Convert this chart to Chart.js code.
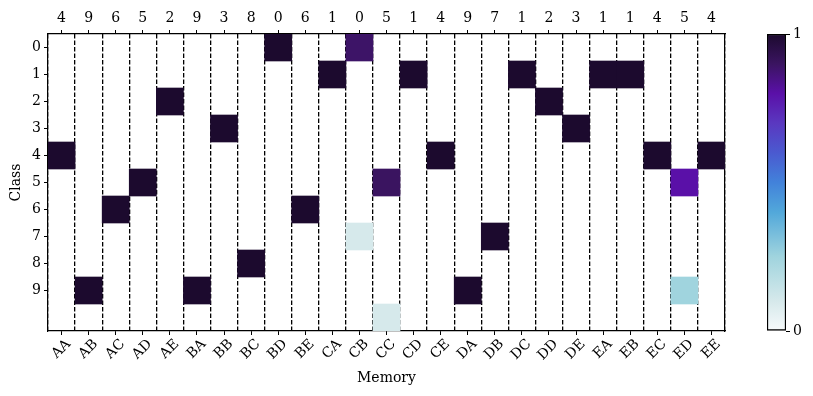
<!doctype html>
<html>

<head>
	<title>Memory vs Class</title>
	<script src="https://cdn.jsdelivr.net/npm/chart.js@4.4.1/dist/chart.umd.min.js"></script>
	<style>
		body { margin: 0; background: #fff; }
		#main-holder { position: absolute; left: 0; top: 0; width: 745px; height: 396px; }
		#bar-holder { position: absolute; left: 740px; top: 0; width: 73px; height: 396px; }
	</style>
</head>

<body>
	<div id="main-holder"><canvas id="heat"></canvas></div>
	<div id="bar-holder"><canvas id="cbar"></canvas></div>
	<script>
		var memory = ['AA', 'AB', 'AC', 'AD', 'AE', 'BA', 'BB', 'BC', 'BD', 'BE', 'CA', 'CB', 'CC',
			'CD', 'CE', 'DA', 'DB', 'DC', 'DD', 'DE', 'EA', 'EB', 'EC', 'ED', 'EE'];
		var classes = [0, 1, 2, 3, 4, 5, 6, 7, 8, 9];
		var topLabels = ['4', '9', '6', '5', '2', '9', '3', '8', '0', '6', '1', '0', '5',
			'1', '4', '9', '7', '1', '2', '3', '1', '1', '4', '5', '4'];

		// one row per class (last row has no label), one value per memory column
		var heat = [
			[0, 0, 0, 0, 0, 0, 0, 0, 1, 0, 0, 0.89, 0, 0, 0, 0, 0, 0, 0, 0, 0, 0, 0, 0, 0],
			[0, 0, 0, 0, 0, 0, 0, 0, 0, 0, 1, 0, 0, 1, 0, 0, 0, 1, 0, 0, 1, 1, 0, 0, 0],
			[0, 0, 0, 0, 1, 0, 0, 0, 0, 0, 0, 0, 0, 0, 0, 0, 0, 0, 1, 0, 0, 0, 0, 0, 0],
			[0, 0, 0, 0, 0, 0, 1, 0, 0, 0, 0, 0, 0, 0, 0, 0, 0, 0, 0, 1, 0, 0, 0, 0, 0],
			[1, 0, 0, 0, 0, 0, 0, 0, 0, 0, 0, 0, 0, 0, 1, 0, 0, 0, 0, 0, 0, 0, 1, 0, 1],
			[0, 0, 0, 1, 0, 0, 0, 0, 0, 0, 0, 0, 0.9, 0, 0, 0, 0, 0, 0, 0, 0, 0, 0, 0.8, 0],
			[0, 0, 1, 0, 0, 0, 0, 0, 0, 1, 0, 0, 0, 0, 0, 0, 0, 0, 0, 0, 0, 0, 0, 0, 0],
			[0, 0, 0, 0, 0, 0, 0, 0, 0, 0, 0, 0.1, 0, 0, 0, 0, 1, 0, 0, 0, 0, 0, 0, 0, 0],
			[0, 0, 0, 0, 0, 0, 0, 1, 0, 0, 0, 0, 0, 0, 0, 0, 0, 0, 0, 0, 0, 0, 0, 0, 0],
			[0, 1, 0, 0, 0, 1, 0, 0, 0, 0, 0, 0, 0, 0, 0, 1, 0, 0, 0, 0, 0, 0, 0, 0.25, 0],
			[0, 0, 0, 0, 0, 0, 0, 0, 0, 0, 0, 0, 0.1, 0, 0, 0, 0, 0, 0, 0, 0, 0, 0, 0, 0]
		];

		var cmapStops = [
			[0.0, [247, 250, 251]], [0.1, [214, 233, 235]], [0.25, [160, 212, 222]],
			[0.4, [82, 168, 218]], [0.5, [66, 130, 218]], [0.6, [74, 90, 208]],
			[0.7, [90, 56, 192]], [0.8, [90, 16, 168]], [0.9, [58, 20, 96]],
			[1.0, [28, 10, 46]]
		];

		function cmap(v) {
			for (var i = 1; i < cmapStops.length; i++) {
				if (v <= cmapStops[i][0]) {
					var a = cmapStops[i - 1], b = cmapStops[i];
					var t = (v - a[0]) / (b[0] - a[0]);
					var c = a[1].map(function(x, k) { return Math.round(x + (b[1][k] - x) * t); });
					return 'rgb(' + c.join(',') + ')';
				}
			}
			return 'rgb(' + cmapStops[cmapStops.length - 1][1].join(',') + ')';
		}

		var font = { family: 'DejaVu Serif', size: 14 };
		Chart.defaults.color = '#000';
		Chart.defaults.font = font;

		var datasets = heat.map(function(row, r) {
			return {
				data: row.map(function(v) { return v > 0 ? [r - 0.5, r + 0.5] : null; }),
				backgroundColor: row.map(function(v) { return cmap(v); }),
				borderWidth: 0,
				barPercentage: 1,
				categoryPercentage: 1,
				grouped: false
			};
		});

		var tickGrid = { drawOnChartArea: false, tickLength: 4, tickWidth: 1, tickColor: '#000', offset: false };
		var solidBorder = { color: '#000', width: 1.2 };

		new Chart(document.getElementById('heat'), {
			type: 'bar',
			data: { labels: memory, datasets: datasets },
			options: {
				responsive: true,
				maintainAspectRatio: false,
				animation: false,
				layout: { padding: { left: 0, right: 20, top: 0, bottom: 0 } },
				plugins: { legend: { display: false }, tooltip: { enabled: false } },
				scales: {
					x: {
						type: 'category',
						position: 'bottom',
						offset: true,
						z: 1,
						grid: tickGrid,
						border: solidBorder,
						ticks: { maxRotation: 45, minRotation: 45, labelOffset: 7, padding: 1, autoSkip: false },
						title: { display: true, text: 'Memory', padding: { top: 0, bottom: 9 } },
						afterFit: function(s) { s.height = 65; }
					},
					xg: {
						type: 'category',
						position: 'bottom',
						labels: memory,
						offset: true,
						z: 1,
						grid: { offset: true, drawTicks: false, color: '#000', lineWidth: 1.3 },
						border: { display: false, dash: [4.5, 2] },
						ticks: { display: false },
						afterFit: function(s) { s.height = 0; }
					},
					x2: {
						type: 'category',
						position: 'top',
						labels: topLabels,
						offset: true,
						z: 1,
						grid: tickGrid,
						border: solidBorder,
						ticks: { maxRotation: 0, autoSkip: false, padding: 3 },
						afterFit: function(s) { s.height = 34; }
					},
					y: {
						type: 'linear',
						position: 'left',
						reverse: true,
						min: -0.5,
						max: 10.5,
						z: 1,
						grid: tickGrid,
						border: solidBorder,
						ticks: { padding: 3 },
						afterBuildTicks: function(s) { s.ticks = classes.map(function(c) { return { value: c }; }); },
						title: { display: true, text: 'Class', padding: { top: 8, bottom: 0 } },
						afterFit: function(s) { s.width = 48; }
					},
					yr: {
						type: 'linear',
						position: 'right',
						min: -0.5,
						max: 10.5,
						z: 1,
						grid: { drawOnChartArea: false, drawTicks: false },
						border: solidBorder,
						ticks: { display: false },
						afterFit: function(s) { s.width = 0; }
					}
				}
			}
		});

		// colour bar
		new Chart(document.getElementById('cbar'), {
			type: 'bar',
			data: {
				labels: [''],
				datasets: [{
					data: [[0, 1]],
					backgroundColor: function(ctx) {
						var area = ctx.chart.chartArea;
						if (!area) return '#fff';
						var g = ctx.chart.ctx.createLinearGradient(0, area.bottom, 0, area.top);
						cmapStops.forEach(function(s) { g.addColorStop(s[0], cmap(s[0])); });
						return g;
					},
					borderColor: '#000',
					borderWidth: 1.5,
					borderSkipped: false,
					barPercentage: 1,
					categoryPercentage: 1
				}]
			},
			options: {
				responsive: true,
				maintainAspectRatio: false,
				animation: false,
				layout: { padding: { left: 27, right: 0, top: 34, bottom: 65 } },
				plugins: { legend: { display: false }, tooltip: { enabled: false } },
				scales: {
					x: { display: false },
					y: {
						type: 'linear',
						position: 'right',
						min: 0,
						max: 1,
						grid: tickGrid,
						border: { display: false },
						ticks: { padding: 3 },
						afterBuildTicks: function(s) { s.ticks = [{ value: 0 }, { value: 1 }]; },
						afterFit: function(s) { s.width = 27; }
					}
				}
			}
		});
	</script>
</body>

</html>
